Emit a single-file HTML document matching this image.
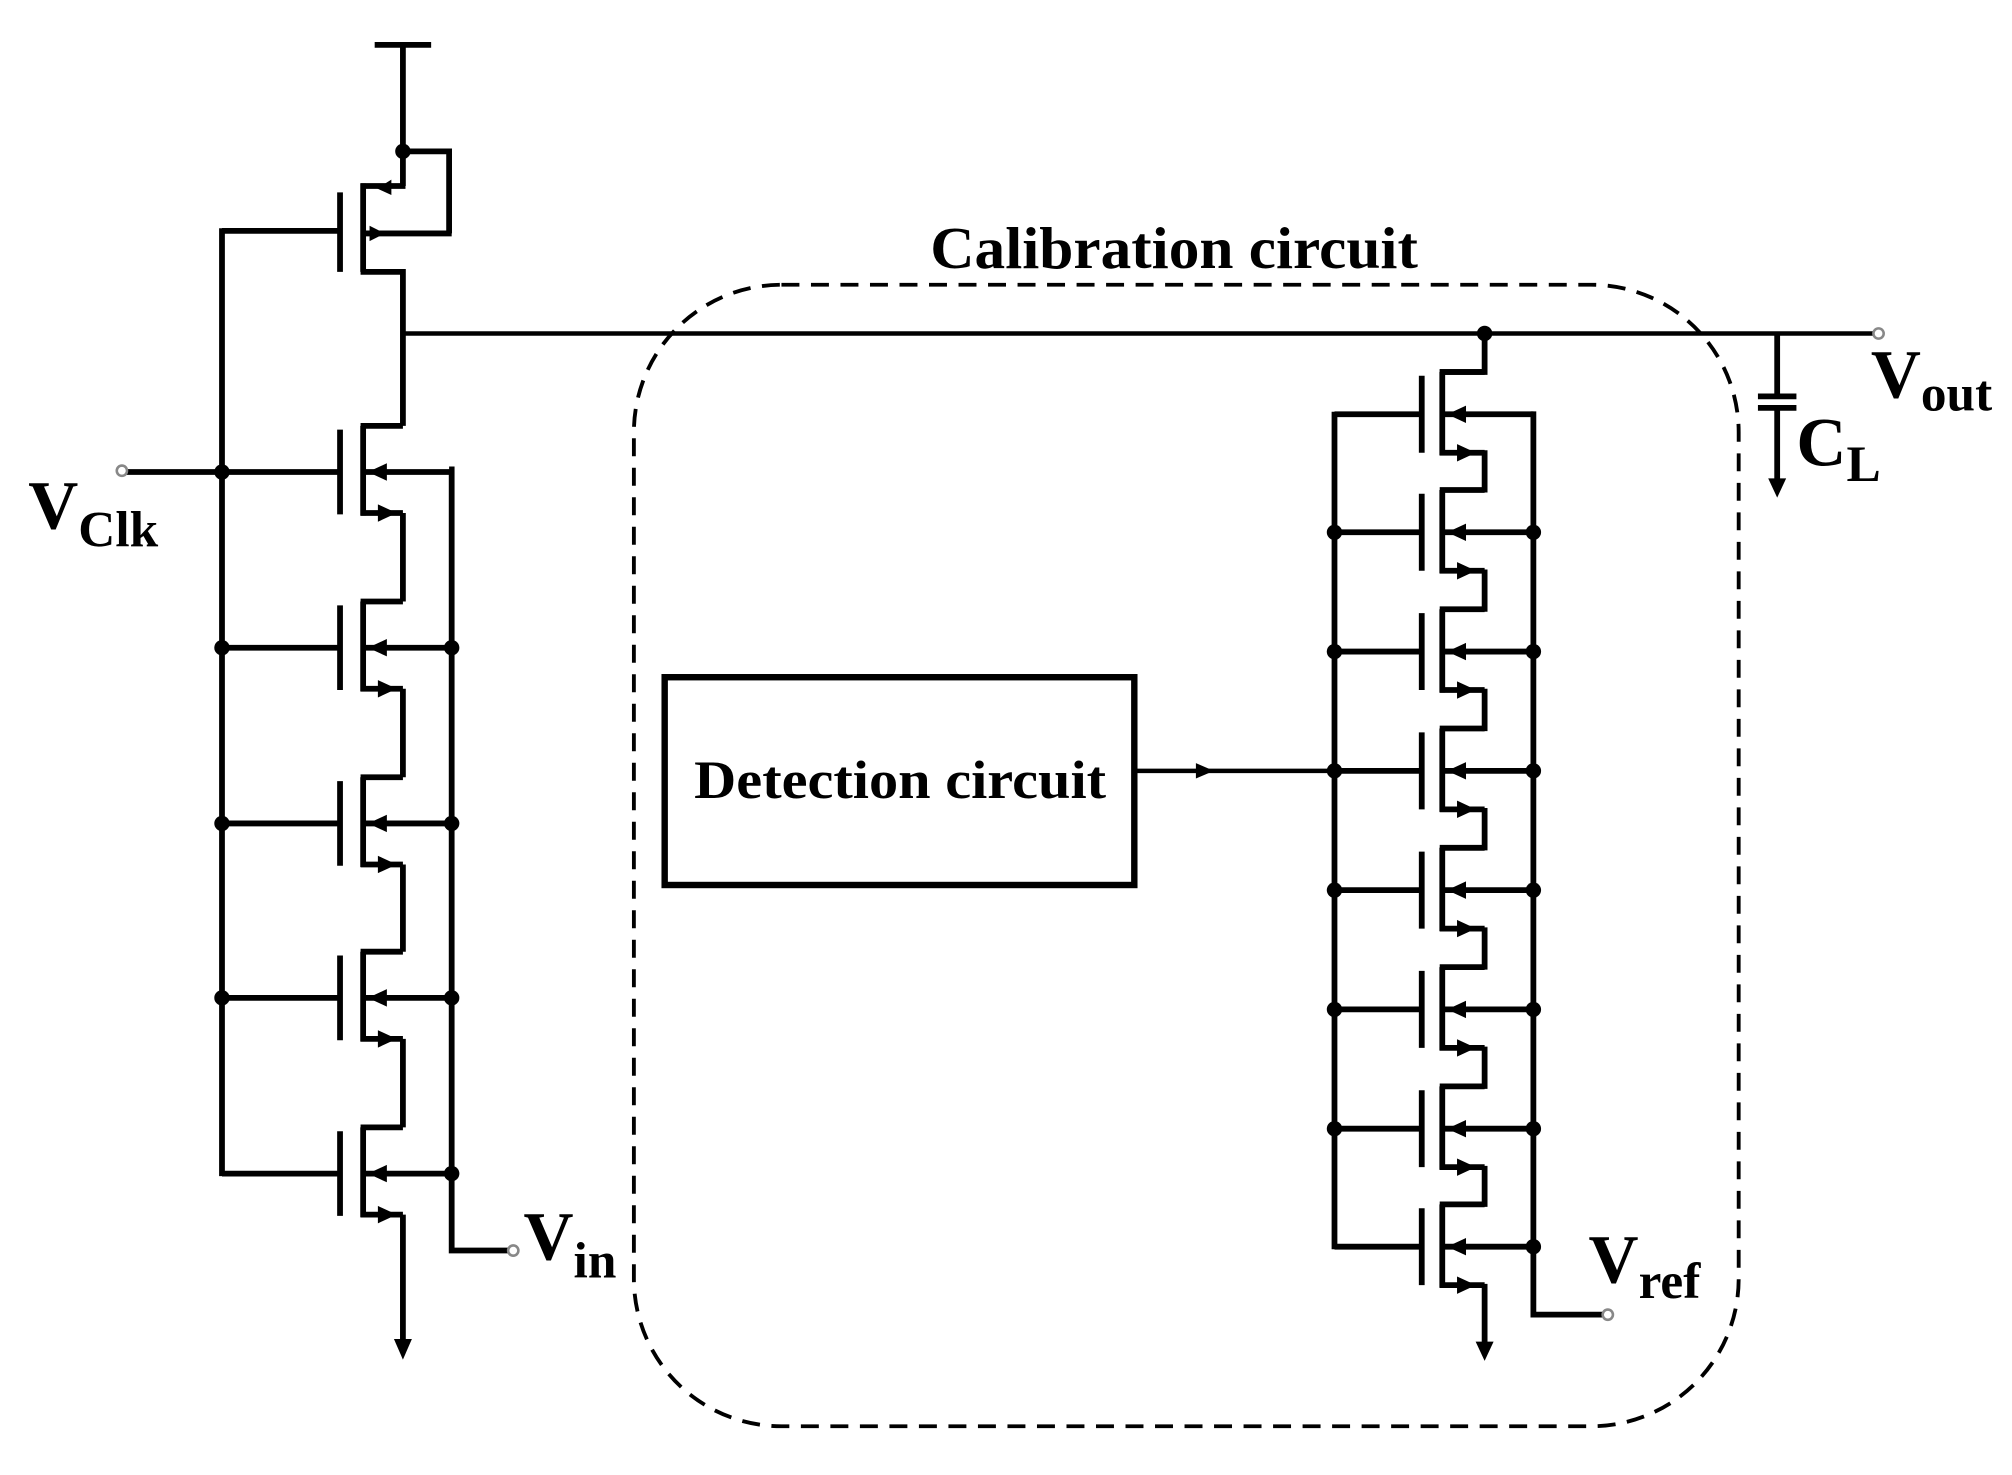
<!DOCTYPE html>
<html><head><meta charset="utf-8"><style>
html,body{margin:0;padding:0;background:#fff;width:2012px;height:1475px;overflow:hidden}
svg{display:block}
text{font-family:"Liberation Serif",serif;font-weight:bold;fill:#000}
</style></head><body>
<svg width="2012" height="1475" viewBox="0 0 1568 1150" preserveAspectRatio="none" xmlns="http://www.w3.org/2000/svg">
<defs>
<g id="nl" stroke="#000" stroke-width="4.5" fill="none">
<line x1="-18" y1="-33" x2="-18" y2="33"/>
<line x1="0" y1="-36" x2="0" y2="34"/>
<line x1="-2" y1="-36" x2="31" y2="-36"/>
<line x1="-2" y1="32" x2="31" y2="32"/>
<line x1="0" y1="0" x2="67" y2="0"/>
<polygon points="12,26 25,32 12,38" fill="#000" stroke-width="1"/>
<polygon points="5,0 18,-6 18,6" fill="#000" stroke-width="1"/>
</g>
<g id="nr" stroke="#000" stroke-width="4.5" fill="none">
<line x1="-16" y1="-30" x2="-16" y2="30"/>
<line x1="0" y1="-33" x2="0" y2="32"/>
<line x1="-2" y1="-33" x2="33" y2="-33"/>
<line x1="-2" y1="30" x2="33" y2="30"/>
<line x1="0" y1="0" x2="71" y2="0"/>
<polygon points="12,24 25,30 12,36" fill="#000" stroke-width="1"/>
<polygon points="5,0 18,-6 18,6" fill="#000" stroke-width="1"/>
</g>
</defs>
<g stroke="#000" stroke-width="4.5" fill="none">
<line x1="292" y1="35" x2="336" y2="35"/>
<line x1="314" y1="35" x2="314" y2="145"/>
<polyline points="314,118 350,118 350,182"/>
<line x1="265" y1="150" x2="265" y2="212"/>
<line x1="283" y1="143" x2="283" y2="212"/>
<line x1="281" y1="145" x2="316" y2="145"/>
<line x1="283" y1="182" x2="352" y2="182"/>
<polyline points="281,212 314,212 314,332"/>
<line x1="173" y1="180" x2="265" y2="180"/>
<line x1="173" y1="178" x2="173" y2="917"/>
<line x1="314" y1="260" x2="1461" y2="260" stroke-width="3.5"/>
<line x1="314" y1="400" x2="314" y2="469"/>
<line x1="314" y1="537" x2="314" y2="606"/>
<line x1="314" y1="674" x2="314" y2="742"/>
<line x1="314" y1="810" x2="314" y2="879"/>
<line x1="314" y1="947" x2="314" y2="1045"/>
<line x1="95" y1="368" x2="265" y2="368"/>
<line x1="173" y1="505" x2="265" y2="505"/>
<line x1="173" y1="642" x2="265" y2="642"/>
<line x1="173" y1="778" x2="265" y2="778"/>
<line x1="173" y1="915" x2="265" y2="915"/>
<polyline points="350,366 352,366 352,975 396,975"/>
<polyline points="1157,260 1157,290 1122,290"/>
<line x1="1040" y1="321" x2="1040" y2="974"/>
<polyline points="1193,323 1195,323 1195,1025 1249,1025"/>
<line x1="1157" y1="351" x2="1157" y2="384"/>
<line x1="1157" y1="444" x2="1157" y2="477"/>
<line x1="1157" y1="537" x2="1157" y2="570"/>
<line x1="1157" y1="630" x2="1157" y2="663"/>
<line x1="1157" y1="723" x2="1157" y2="756"/>
<line x1="1157" y1="816" x2="1157" y2="849"/>
<line x1="1157" y1="909" x2="1157" y2="941"/>
<line x1="1157" y1="1001" x2="1157" y2="1048"/>
<line x1="1040" y1="323" x2="1108" y2="323"/>
<line x1="1040" y1="415" x2="1108" y2="415"/>
<line x1="1040" y1="508" x2="1108" y2="508"/>
<line x1="1040" y1="601" x2="1108" y2="601"/>
<line x1="1040" y1="694" x2="1108" y2="694"/>
<line x1="1040" y1="787" x2="1108" y2="787"/>
<line x1="1040" y1="880" x2="1108" y2="880"/>
<line x1="1040" y1="972" x2="1108" y2="972"/>
<rect x="518" y="528" width="366" height="162" stroke-width="5"/>
<line x1="884" y1="601" x2="1040" y2="601" stroke-width="3.5"/>
<rect x="494" y="222" width="861" height="890" rx="115" ry="115" stroke-width="3" stroke-dasharray="14 9"/>
<line x1="1385" y1="260" x2="1385" y2="309"/>
<line x1="1370" y1="309" x2="1400" y2="309"/>
<line x1="1370" y1="318" x2="1400" y2="318"/>
<line x1="1385" y1="318" x2="1385" y2="375"/>
</g>
<g>
<use href="#nl" x="283" y="368"/><use href="#nl" x="283" y="505"/><use href="#nl" x="283" y="642"/><use href="#nl" x="283" y="778"/><use href="#nl" x="283" y="915"/>
<use href="#nr" x="1124" y="323"/><use href="#nr" x="1124" y="415"/><use href="#nr" x="1124" y="508"/><use href="#nr" x="1124" y="601"/><use href="#nr" x="1124" y="694"/><use href="#nr" x="1124" y="787"/><use href="#nr" x="1124" y="880"/><use href="#nr" x="1124" y="972"/>
</g>
<g fill="#000">
<polygon points="294,147 305,140 305,152"/>
<polygon points="288,176 288,188 300,182"/>
<polygon points="307,1044 321,1044 314,1060"/>
<polygon points="1150,1046 1164,1046 1157,1061"/>
<polygon points="1378,373 1392,373 1385,388"/>
<polygon points="932,595 932,607 946,601"/>
<circle cx="314" cy="118" r="6"/>
<circle cx="1157" cy="260" r="6"/>
<circle cx="173" cy="368" r="6"/><circle cx="173" cy="505" r="6"/><circle cx="173" cy="642" r="6"/><circle cx="173" cy="778" r="6"/>
<circle cx="352" cy="505" r="6"/><circle cx="352" cy="642" r="6"/><circle cx="352" cy="778" r="6"/><circle cx="352" cy="915" r="6"/>
<circle cx="1040" cy="415" r="6"/><circle cx="1040" cy="508" r="6"/><circle cx="1040" cy="601" r="6"/><circle cx="1040" cy="694" r="6"/><circle cx="1040" cy="787" r="6"/><circle cx="1040" cy="880" r="6"/>
<circle cx="1195" cy="415" r="6"/><circle cx="1195" cy="508" r="6"/><circle cx="1195" cy="601" r="6"/><circle cx="1195" cy="694" r="6"/><circle cx="1195" cy="787" r="6"/><circle cx="1195" cy="880" r="6"/><circle cx="1195" cy="972" r="6"/>
</g>
<g fill="#fff" stroke="#888" stroke-width="2">
<circle cx="95" cy="367" r="4"/><circle cx="400" cy="975" r="4"/><circle cx="1253" cy="1025" r="4"/><circle cx="1464" cy="260" r="4"/>
</g>
<text x="725" y="209" font-size="46" textLength="380" lengthAdjust="spacingAndGlyphs">Calibration circuit</text>
<text x="541" y="622" font-size="42" textLength="321" lengthAdjust="spacingAndGlyphs">Detection circuit</text>
<text x="22" y="412" font-size="54">V<tspan font-size="40" dy="14">Clk</tspan></text>
<text x="408" y="982" font-size="54">V<tspan font-size="40" dy="14">in</tspan></text>
<text x="1238" y="1000" font-size="54">V<tspan font-size="40" dy="12">ref</tspan></text>
<text x="1458" y="310" font-size="54">V<tspan font-size="40" dy="10">out</tspan></text>
<text x="1400" y="363" font-size="54">C<tspan font-size="40" dy="12">L</tspan></text>
</svg>
</body></html>
